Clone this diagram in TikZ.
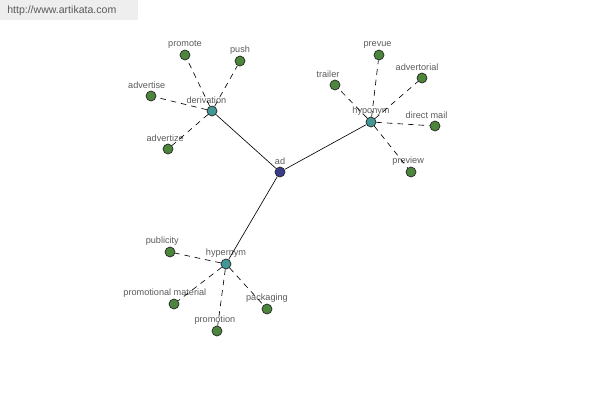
\documentclass[tikz,border=0pt]{standalone}
\usepackage{fontspec}
\setmainfont{Liberation Sans}
\definecolor{LeafGreen}{RGB}{76,134,60}
\definecolor{HubTeal}{RGB}{66,150,148}
\definecolor{RootBlue}{RGB}{58,60,140}
\definecolor{LabelGray}{RGB}{90,90,90}
\definecolor{BannerGray}{RGB}{238,238,238}

\begin{document}
\begin{tikzpicture}[
        x=0.025cm, y=-0.025cm,
        dot/.style={circle, draw=black!85, line width=0.5pt, minimum size=0.25cm, inner sep=0pt},
        leaf/.style={dot, fill=LeafGreen},
        hub/.style={dot, fill=HubTeal},
        root/.style={dot, fill=RootBlue},
        lbl/.style={font=\fontsize{6.5}{7.5}\selectfont, text=LabelGray, inner sep=1pt},
        every label/.style={lbl},
        label distance=0pt,
        link/.style={line width=0.45pt, black},
        rel/.style={link, dash pattern=on 4pt off 3.5pt}
    ]
        \useasboundingbox (0,0) rectangle (600,400);

        % banner
        \fill[BannerGray] (0,0) rectangle (138,20);
        \node[font=\fontsize{7.5}{9}\selectfont, text=black!65, anchor=west, inner sep=0pt] (site) at (7,11) {http://www.artikata.com};

        % centre and the three hubs
        \node[root, label={above:ad}] (ad) at (280,172) {};
        \node[hub, label={[xshift=-4pt]above:derivation}] (der) at (212,111) {};
        \node[hub, label={above:hyponym}] (hypo) at (371,122) {};
        \node[hub, label={above:hypernym}] (hyper) at (226,264) {};

        % derivation
        \node[leaf, label={above:promote}] (promote) at (185,55) {};
        \node[leaf, label={above:push}] (push) at (240,61) {};
        \node[leaf, label={[xshift=-3pt]above:advertise}] (advertise) at (151,96) {};
        \node[leaf, label={[xshift=-2pt]above:advertize}] (advertize) at (168,149) {};

        % hyponym
        \node[leaf, label={[xshift=-1pt]above:prevue}] (prevue) at (379,55) {};
        \node[leaf, label={[xshift=-3.5pt]above:advertorial}] (advertorial) at (422,78) {};
        \node[leaf, label={[xshift=-5pt]above:trailer}] (trailer) at (335,85) {};
        \node[leaf, label={[xshift=-6pt]above:direct mail}] (dmail) at (435,126) {};
        \node[leaf, label={[xshift=-2pt]above:preview}] (preview) at (411,172) {};

        % hypernym
        \node[leaf, label={[xshift=-5.5pt]above:publicity}] (publicity) at (170,252) {};
        \node[leaf, label={[xshift=-6.5pt]above:promotional material}] (pmaterial) at (174,304) {};
        \node[leaf, label={[xshift=-1.5pt]above:promotion}] (promotion) at (217,331) {};
        \node[leaf, label={above:packaging}] (packaging) at (267,309) {};

        \draw[link] (ad) -- (der);
        \draw[link] (ad) -- (hypo);
        \draw[link] (ad) -- (hyper);

        \draw[rel] (der) -- (promote);
        \draw[rel] (der) -- (push);
        \draw[rel] (der) -- (advertise);
        \draw[rel] (der) -- (advertize);

        \draw[rel] (hypo) -- (prevue);
        \draw[rel] (hypo) -- (advertorial);
        \draw[rel] (hypo) -- (trailer);
        \draw[rel] (hypo) -- (dmail);
        \draw[rel] (hypo) -- (preview);

        \draw[rel] (hyper) -- (publicity);
        \draw[rel] (hyper) -- (pmaterial);
        \draw[rel] (hyper) -- (promotion);
        \draw[rel] (hyper) -- (packaging);
    \end{tikzpicture}
\end{document}
